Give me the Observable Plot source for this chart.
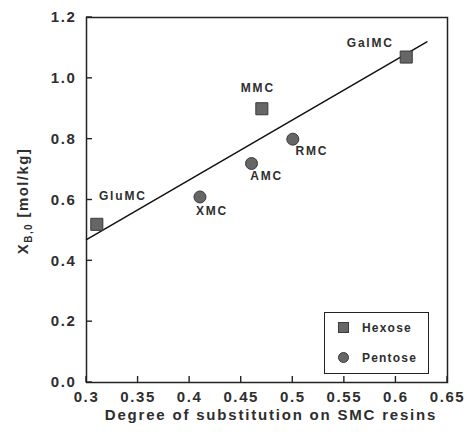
<!DOCTYPE html>
<html><head><meta charset="utf-8">
<script src="https://cdn.jsdelivr.net/npm/d3@7"></script>
<script src="https://cdn.jsdelivr.net/npm/@observablehq/plot@0.6"></script>
<style>
body{margin:0;background:#fff;}
#wrap{position:relative;width:467px;height:432px;font-family:"Liberation Sans",Arial,sans-serif;color:#2e2e2e;}
#legend{position:absolute;left:324px;top:312px;width:105px;height:62px;border:1.5px solid #222;box-sizing:border-box;background:#fff;}
.lg{position:absolute;left:37px;font-size:12px;font-weight:bold;line-height:14px;letter-spacing:1.2px;}
.sym{position:absolute;left:13px;width:11px;height:11px;background:#666;border:1px solid #3a3a3a;box-sizing:border-box;}
g[aria-label="x-axis tick label"] text, g[aria-label="y-axis tick label"] text {letter-spacing:1.6px;}
g.ptlabel text {letter-spacing:1.8px;}
g.xtitle text {letter-spacing:1.8px;}
</style></head><body><div id="wrap"></div>
<script>
const names = ["GluMC","XMC","AMC","MMC","RMC","GalMC"];
const sugarType = ["Hexose","Pentose","Pentose","Hexose","Pentose","Hexose"];
const substitution = [0.31,0.41,0.46,0.47,0.50,0.61];
const xb0 = [0.52,0.61,0.72,0.90,0.80,1.07];
const fitX = [0.30,0.63];
const fitY = [0.47,1.12];
const xTicks = [0.3,0.35,0.4,0.45,0.5,0.55,0.6,0.65];
const yTicks = [0,0.2,0.4,0.6,0.8,1.0,1.2];
const legendLabels = ["Hexose","Pentose"];
const xTitle = "Degree of substitution on SMC resins";

const points = names.map((n,i)=>({name:n, type:sugarType[i], x:substitution[i], y:xb0[i]}));
const fit = fitX.map((x,i)=>({x, y:fitY[i]}));
const labelOffset = {GluMC:[26,-28], XMC:[12,14], AMC:[15,13], RMC:[19,12], MMC:[-4,-21], GalMC:[-36,-14]};
const TICK = 6;

const labelMarks = points.map(p => Plot.text([p], {x:"x", y:"y", text:"name", dx:labelOffset[p.name][0], dy:labelOffset[p.name][1], fontSize:12, fontWeight:"bold", fill:"#2e2e2e", className:"ptlabel"}));

const chart = Plot.plot({
  width:467, height:432,
  marginLeft:86, marginRight:20, marginTop:17, marginBottom:50,
  style:{fontFamily:'"Liberation Sans", Arial, sans-serif', fontSize:"15px", fontWeight:"bold", color:"#2e2e2e", background:"white"},
  x:{domain:[0.3,0.65]},
  y:{domain:[0,1.2]},
  marks:[
    Plot.frame({stroke:"#222", strokeWidth:1.5}),
    Plot.axisX({ticks:xTicks, tickSize:0, tickPadding:9, tickFormat:d=>String(d), label:null}),
    Plot.axisY({ticks:yTicks, tickSize:0, tickPadding:10, tickFormat:d3.format(".1f"), label:null}),
    Plot.line(fit, {x:"x", y:"y", stroke:"#111", strokeWidth:1.5}),
    Plot.dot(points.filter(d=>d.type==="Hexose"), {x:"x", y:"y", symbol:"square", r:6.8, fill:"#666", stroke:"#3a3a3a", strokeWidth:1}),
    Plot.dot(points.filter(d=>d.type==="Pentose"), {x:"x", y:"y", symbol:"circle", r:6, fill:"#666", stroke:"#3a3a3a", strokeWidth:1}),
    ...labelMarks,
    Plot.text([xTitle], {frameAnchor:"bottom", dx:4, dy:37, text:d=>d, fontSize:15, fontWeight:"bold", fill:"#2e2e2e", className:"xtitle"})
  ]
});
document.getElementById("wrap").appendChild(chart);

const svg = d3.select(chart);
const sx = chart.scale("x"), sy = chart.scale("y");
// Inward tick marks, positioned through Plot's scales
const tg = svg.append("g").attr("stroke","#222").attr("stroke-width",1.4);
const y0 = sy.apply(0), x0 = sx.apply(0.3);
xTicks.forEach(v => {
  const px = sx.apply(v);
  tg.append("line").attr("x1",px).attr("x2",px).attr("y1",y0).attr("y2",y0-TICK);
});
yTicks.forEach(v => {
  const py = sy.apply(v);
  tg.append("line").attr("x1",x0).attr("x2",x0+TICK).attr("y1",py).attr("y2",py);
});

// Y axis title with subscript
const yl = svg.append("text")
  .attr("transform","translate(28,201) rotate(-90)")
  .attr("text-anchor","middle")
  .attr("fill","#2e2e2e")
  .style("font-size","15px").style("font-weight","bold").style("letter-spacing","1.4px");
yl.append("tspan").text("X");
yl.append("tspan").attr("dy",4).style("font-size","10px").text("B,0");
yl.append("tspan").attr("dy",-4).text(" [mol/kg]");

// Legend
const lg = document.createElement("div");
lg.id = "legend";
legendLabels.forEach((t,i)=>{
  const s = document.createElement("div");
  s.className = "sym";
  s.style.top = (i===0?9:39)+"px";
  if (t==="Pentose") s.style.borderRadius="50%";
  lg.appendChild(s);
  const l = document.createElement("div");
  l.className = "lg";
  l.style.top = (i===0?7.5:37.5)+"px";
  l.textContent = t;
  lg.appendChild(l);
});
document.getElementById("wrap").appendChild(lg);
</script></body></html>
